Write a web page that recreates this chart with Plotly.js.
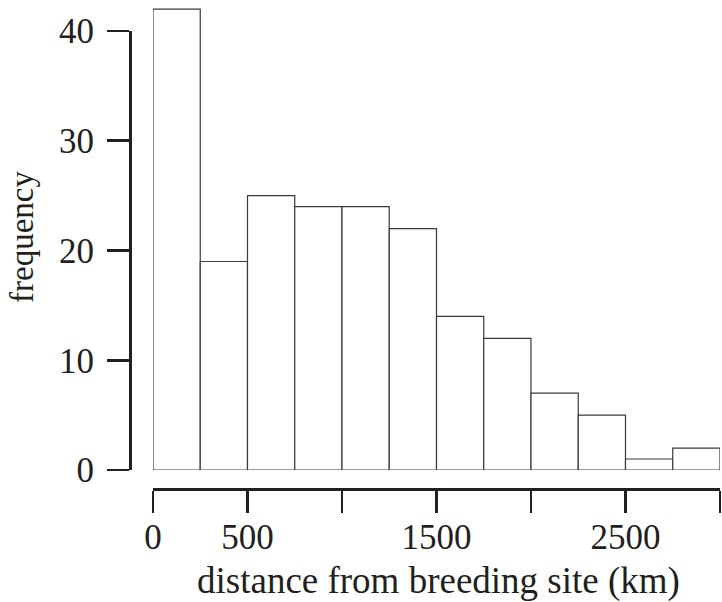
<!DOCTYPE html>
<html>
<head>
<meta charset="utf-8">
<script src="https://cdn.plot.ly/plotly-3.0.1.min.js"></script>
<style>html,body{margin:0;padding:0;background:#fff;}</style>
</head>
<body>
<div id="chart" style="width:722px;height:602px;"></div>
<script>
// Histogram bins (km) and counts
const binStarts = [0, 250, 500, 750, 1000, 1250, 1500, 1750, 2000, 2250, 2500, 2750];
const binWidth = 250;
const counts = [42, 19, 25, 24, 24, 22, 14, 12, 7, 5, 1, 2];
const xTickVals = [0, 500, 1000, 1500, 2000, 2500, 3000];
const xTickText = ['0', '500', '', '1500', '', '2500', ''];
const yTickVals = [0, 10, 20, 30, 40];

const centers = binStarts.map(s => s + binWidth / 2);
const FONT = 'Liberation Serif, Times New Roman, serif';
const INK = '#231f20';

const data = [
  {
    type: 'bar',
    x: centers,
    y: counts,
    width: binStarts.map(() => binWidth),
    marker: {color: '#ffffff', line: {color: '#3a3a3a', width: 1.2}},
    xaxis: 'x', yaxis: 'y',
    hoverinfo: 'x+y'
  },
  {
    type: 'scatter', mode: 'markers',
    x: [null], y: [null],
    xaxis: 'x', yaxis: 'y2',
    showlegend: false, hoverinfo: 'skip'
  }
];

const layout = {
  width: 722, height: 602,
  margin: {l: 130, r: 2, t: 5, b: 113},
  paper_bgcolor: '#fff', plot_bgcolor: 'rgba(0,0,0,0)',
  showlegend: false,
  bargap: 0,
  font: {family: FONT, size: 35, color: INK},
  xaxis: {
    domain: [0.03898, 1],
    range: [0, 3000],
    anchor: 'free', position: 0,
    showgrid: false, zeroline: false,
    showline: true, linecolor: INK, linewidth: 2.5,
    ticks: 'outside', ticklen: 22, tickwidth: 2.5, tickcolor: INK,
    tickmode: 'array', tickvals: xTickVals, ticktext: xTickText,
    ticklabelstandoff: -6,
    tickfont: {family: FONT, size: 35, color: INK}
  },
  yaxis: {
    domain: [0.03926, 1],
    range: [0, 42.37],
    anchor: 'free', position: 0,
    showgrid: false, zeroline: false, showline: false,
    showticklabels: false, ticks: ''
  },
  yaxis2: {
    domain: [0.03926, 0.9463],
    range: [0, 40],
    anchor: 'free', position: 0,
    showgrid: false, zeroline: false,
    showline: true, linecolor: INK, linewidth: 2.5,
    ticks: 'outside', ticklen: 22, tickwidth: 2.5, tickcolor: INK,
    tickmode: 'array', tickvals: yTickVals,
    ticklabelstandoff: 6,
    tickfont: {family: FONT, size: 35, color: INK}
  },
  annotations: [
    {
      text: 'distance from breeding site (km)',
      xref: 'paper', yref: 'paper',
      x: (438 - 130) / 590, y: (489 - 581) / 484,
      xanchor: 'center', yanchor: 'middle',
      showarrow: false,
      font: {family: FONT, size: 37, color: INK}
    },
    {
      text: 'frequency',
      xref: 'paper', yref: 'paper',
      x: (22 - 130) / 590, y: (489 - 237) / 484,
      xanchor: 'center', yanchor: 'middle',
      textangle: -90,
      showarrow: false,
      font: {family: FONT, size: 33, color: INK}
    }
  ]
};

Plotly.newPlot('chart', data, layout, {staticPlot: true, displayModeBar: false});
</script>
</body>
</html>
